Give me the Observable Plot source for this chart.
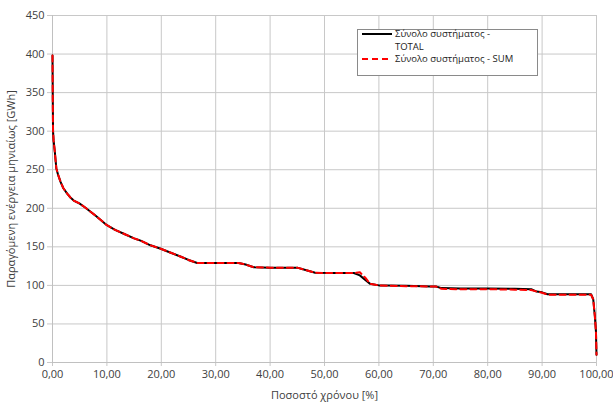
<!DOCTYPE html>
<html>
<head>
<meta charset="utf-8">
<script src="https://cdn.jsdelivr.net/npm/d3@7"></script>
<script src="https://cdn.jsdelivr.net/npm/@observablehq/plot@0.6"></script>
<style>
  body { margin: 0; background: #fff; }
  #wrap { position: relative; width: 613px; height: 403px; font-family: "Open Sans", sans-serif; }
  #legend { position: absolute; left: 357px; top: 29px; width: 181px; height: 47px; border: 1px solid #8a8a8a; background: #fff; font-size: 9.5px; color: #222; box-sizing: border-box; }
  .row { position: absolute; left: 4px; height: 11px; line-height: 11px; display: flex; align-items: center; white-space: nowrap; }
  .row span { display: inline-block; height: 11px; line-height: 11px; overflow: visible; }
  .row svg { margin-right: 3px; }
</style>
</head>
<body>
<div id="wrap">
  <div id="chart"></div>
  <div id="legend">
    <div class="row" style="top:-2px"><svg width="30" height="8"><line x1="0" y1="4" x2="30" y2="4" stroke="#000" stroke-width="2"/></svg><span>Σύνολο συστήματος -</span></div>
    <div class="row" style="top:10.5px; left:37px"><span>TOTAL</span></div>
    <div class="row" style="top:23px"><svg width="30" height="8"><line x1="0" y1="4" x2="30" y2="4" stroke="#ff0000" stroke-width="2" stroke-dasharray="6,4"/></svg><span>Σύνολο συστήματος - SUM</span></div>
  </div>
</div>
<script>
const pct   = [0, 0.05, 0.1, 0.2, 0.4, 0.7, 1.0, 1.5, 2.0, 2.7, 3.3, 3.9, 5.0, 6.0, 8.0, 10.0, 11.5, 13.1, 15.0, 16.2, 18.0, 19.9, 21.5, 23.5, 25.0, 26.6, 30.0, 34.2, 35.5, 37.0, 40, 45, 46.5, 48.3, 52, 55.4, 56.5, 57.5, 58.4, 60, 61.5, 65, 69.5, 70.5, 71.5, 75, 80, 85, 88, 89, 90, 91, 95, 99, 99.4, 99.7, 99.9, 100];
const total = [398, 340, 300, 288, 275, 252, 244, 234, 226, 219, 214, 210, 206, 201, 190, 178, 172, 167, 161, 158, 152, 147.5, 143, 137.5, 133, 129, 129, 129, 127, 123.5, 123, 123, 120, 116.3, 116, 116, 113, 107, 102, 100, 100, 99.5, 98.6, 98.5, 96.5, 96, 96, 95.5, 95, 92, 91, 88.5, 88.5, 88.5, 82, 60, 40, 10];
const sum   = [398, 340, 300, 288, 275, 252, 244, 234, 226, 219, 214, 210, 206, 201, 190, 178, 172, 167, 161, 158, 152, 147.5, 143, 137.5, 133, 129, 129, 129, 127, 123.5, 123, 123, 120, 116.3, 116, 116, 117, 110, 102, 100, 99.5, 99, 98.6, 98.5, 95.5, 95, 95, 94.5, 94, 92, 90.5, 88, 88, 88, 82, 60, 40, 10];
const xTicks = [0, 10, 20, 30, 40, 50, 60, 70, 80, 90, 100];
const yTicks = [0, 50, 100, 150, 200, 250, 300, 350, 400, 450];

const dTotal = pct.map((p, i) => ({p, v: total[i]}));
const dSum = pct.map((p, i) => ({p, v: sum[i]}));
const fmt = d => d.toFixed(2).replace(".", ",");

const chart = Plot.plot({
  width: 613,
  height: 403,
  marginLeft: 52,
  marginRight: 17,
  marginTop: 15,
  marginBottom: 41,
  style: {fontFamily: "Open Sans, sans-serif", fontSize: "11px", color: "#404040", background: "#fff"},
  x: {domain: [0, 100]},
  y: {domain: [0, 450]},
  marks: [
    Plot.gridX(xTicks, {stroke: "#c8c8c8", strokeOpacity: 1}),
    Plot.gridY(yTicks, {stroke: "#c8c8c8", strokeOpacity: 1}),
    Plot.axisX({ticks: xTicks, tickFormat: fmt, tickSize: 4, stroke: "#c8c8c8", label: "Ποσοστό χρόνου [%]", labelAnchor: "center", labelArrow: "none", labelOffset: 36, tickPadding: 4}),
    Plot.axisY({ticks: yTicks, tickSize: 5, stroke: "#c8c8c8", label: "Παραγόμενη ενέργεια μηνιαίως [GWh]", labelAnchor: "center", labelArrow: "none", labelOffset: 45, tickPadding: 3}),
    Plot.ruleY([0], {stroke: "#c0c0c0"}),
    Plot.ruleX([0], {stroke: "#c0c0c0"}),
    Plot.line(dTotal, {x: "p", y: "v", stroke: "#000", strokeWidth: 2}),
    Plot.line(dSum, {x: "p", y: "v", stroke: "#ff0000", strokeWidth: 2, strokeDasharray: "6,4"})
  ]
});
document.getElementById("chart").appendChild(chart);
</script>
</body>
</html>
